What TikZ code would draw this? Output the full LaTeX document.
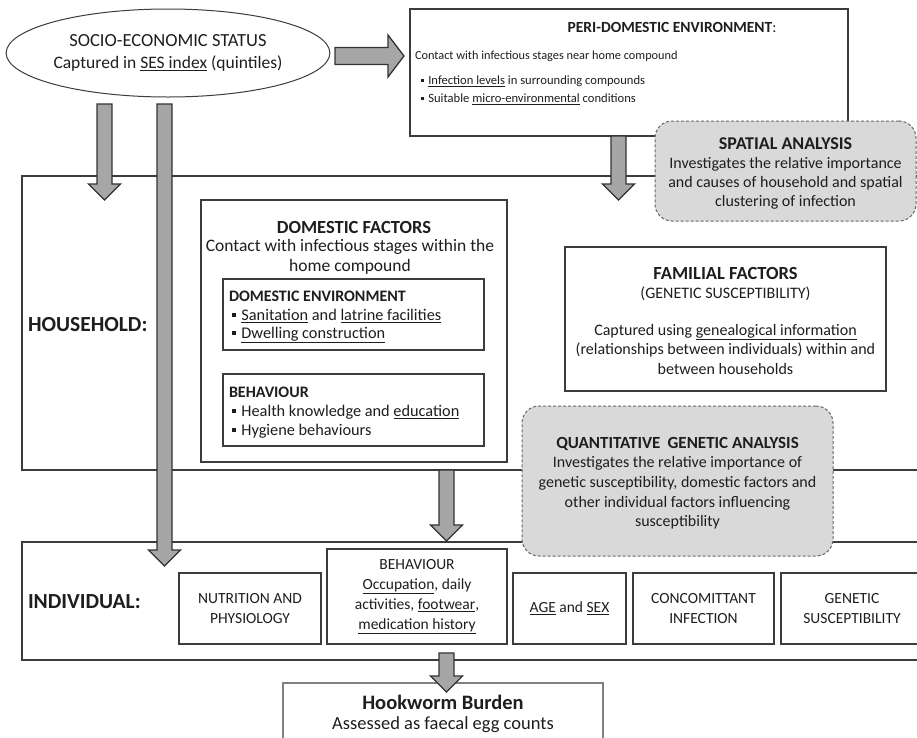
\documentclass[tikz,border=0pt]{standalone}
\usepackage{fontspec}
\setmainfont{Carlito}
\usetikzlibrary{shapes.geometric,calc}
\definecolor{lc}{HTML}{3C3C3C}
\definecolor{afill}{HTML}{A6A6A6}
\definecolor{dfill}{HTML}{D9D9D9}
\definecolor{tc}{HTML}{1E1E1E}
\newcommand\fsz[2]{\fontsize{#1}{#2}\selectfont}
\newcommand\bul{\raisebox{0.2em}{\rule{0.26em}{0.26em}}\hspace{0.32em}}
\newcommand\ulx[1]{\underline{#1}}
\newcommand\varrow[2]{\draw[barrow] let \p1=(#1), \p2=(#2) in
  (\x1-7.5pt,\y1) -- (\x1-7.5pt,\y2+16pt) -- (\x1-16pt,\y2+16pt) -- (\x1,\y2)
  -- (\x1+16pt,\y2+16pt) -- (\x1+7.5pt,\y2+16pt) -- (\x1+7.5pt,\y1) -- cycle;}
\newcommand\harrow[2]{\draw[barrow] let \p1=(#1), \p2=(#2) in
  (\x1,\y1+8.5pt) -- (\x2-16pt,\y1+8.5pt) -- (\x2-16pt,\y1+21pt) -- (\x2,\y1)
  -- (\x2-16pt,\y1-21pt) -- (\x2-16pt,\y1-8.5pt) -- (\x1,\y1-8.5pt) -- cycle;}
\tikzset{
  box/.style={draw=lc, line width=1.1pt, inner sep=0pt, outer sep=0pt, rectangle, anchor=north west},
  gbox/.style={draw=black!60, fill=dfill, line width=1pt, dash pattern=on 3pt off 2pt,
     rounded corners=17pt, inner sep=0pt, outer sep=0pt, rectangle, anchor=north west},
  barrow/.style={draw=black!80, fill=afill, line width=1.3pt, line join=miter},
  txt/.style={inner sep=0pt, outer sep=0pt, align=center, text=tc},
  ltxt/.style={inner sep=0pt, outer sep=0pt, anchor=west, text=tc},
  ibox/.style={box, align=center, text=tc, font=\fsz{15.5}{19.5}},
}
\begin{document}
\begin{tikzpicture}[x=1pt,y=-1pt]
\useasboundingbox (0,0) rectangle (917,737);
\clip (0,0) rectangle (917,737);
\fill[white] (0,0) rectangle (917,737);

% big frames
\node[box, minimum width=908pt, minimum height=294pt] (hh) at (22,176) {};
\node[box, minimum width=908pt, minimum height=118pt] (ind) at (22,542) {};
\node[ltxt, font=\fsz{21.5}{25}\bfseries] (hhl) at (28,325) {HOUSEHOLD:};
\node[ltxt, font=\fsz{21.5}{25}\bfseries] (indl) at (28,602) {INDIVIDUAL:};

% SES ellipse
\node[ellipse, draw=lc, line width=1pt, minimum width=321pt, minimum height=88pt,
      inner sep=0pt, align=center, text=tc, font=\fsz{17.5}{21}] (ses) at (168,53)
  {{\fsz{18.5}{21}SOCIO-ECONOMIC STATUS}\\[1pt]Captured in \ulx{SES index} (quintiles)};

% peri-domestic
\node[box, minimum width=438pt, minimum height=127pt] (peri) at (410,9) {};
\node[txt, font=\fsz{15.5}{18}] (perit) at (672,27) {\textbf{PERI-DOMESTIC ENVIRONMENT}:};
\node[ltxt, font=\fsz{12.3}{15}] (peric) at (415,56) {Contact with infectious stages near home compound};
\node[ltxt, font=\fsz{12.6}{15}] (perib1) at (421,81) {\bul\ulx{Infection levels} in surrounding compounds};
\node[ltxt, font=\fsz{12.6}{15}] (perib2) at (421,99) {\bul Suitable \ulx{micro-environmental} conditions};

% spatial analysis
\node[gbox, minimum width=261pt, minimum height=100pt] (spat) at (655,121) {};
\node[txt, font=\fsz{16}{19}] (spatt) at (785.5,173)
  {{\fsz{18}{19}\bfseries SPATIAL ANALYSIS}\\Investigates the relative importance\\and causes of household and spatial\\clustering of infection};

% domestic factors
\node[box, minimum width=306pt, minimum height=262pt] (dom) at (201,200) {};
\node[txt, font=\fsz{18.5}{20}\bfseries] (domt) at (354,227) {DOMESTIC FACTORS};
\node[txt, font=\fsz{17.5}{20}] (domc) at (350,257) {Contact with infectious stages within the\\home compound};
\node[box, minimum width=261pt, minimum height=71pt] (denv) at (223,279) {};
\node[ltxt, font=\fsz{16}{19}\bfseries] (denvt) at (229,296) {DOMESTIC ENVIRONMENT};
\node[ltxt, font=\fsz{16.3}{19}] (denvb1) at (232,316) {\bul\ulx{Sanitation} and \ulx{latrine facilities}};
\node[ltxt, font=\fsz{16.3}{19}] (denvb2) at (232,335) {\bul\ulx{Dwelling construction}};
\node[box, minimum width=261pt, minimum height=72pt] (dbeh) at (223,374) {};
\node[ltxt, font=\fsz{16}{19}\bfseries] (dbeht) at (229,392) {BEHAVIOUR};
\node[ltxt, font=\fsz{16.3}{19}] (dbehb1) at (232,412) {\bul Health knowledge and \ulx{education}};
\node[ltxt, font=\fsz{16.3}{19}] (dbehb2) at (232,431) {\bul Hygiene behaviours};

% familial factors
\node[box, minimum width=321pt, minimum height=144pt] (fam) at (565,247) {};
\node[txt, font=\fsz{18.5}{20}\bfseries] (famt) at (725.5,273) {FAMILIAL FACTORS};
\node[txt, font=\fsz{16}{19}] (fams) at (725.5,294) {(GENETIC SUSCEPTIBILITY)};
\node[txt, font=\fsz{16}{19.5}] (famc) at (725.5,349)
  {Captured using \ulx{genealogical information}\\(relationships between individuals) within and\\between households};

% quantitative genetic analysis
\node[gbox, minimum width=311pt, minimum height=150pt] (quant) at (522,406) {};
\node[txt, font=\fsz{17}{20}\bfseries] (quantt) at (677.5,444) {QUANTITATIVE\hspace{0.2em} GENETIC ANALYSIS};
\node[txt, font=\fsz{16}{19.7}] (quantc) at (677.5,493)
  {Investigates the relative importance of\\genetic susceptibility, domestic factors and\\other individual factors influencing\\susceptibility};

% individual factor boxes
\node[ibox, minimum width=142pt, minimum height=71pt] (nut) at (179,573) {NUTRITION AND\\PHYSIOLOGY};
\node[ibox, minimum width=180pt, minimum height=95pt, font=\fsz{15.5}{20}] (beh) at (327,549)
  {BEHAVIOUR\\\ulx{Occupation}, daily\\activities, \ulx{footwear},\\\ulx{medication history}};
\node[ibox, minimum width=113pt, minimum height=71pt] (age) at (513,573) {\ulx{AGE} and \ulx{SEX}};
\node[ibox, minimum width=141pt, minimum height=71pt] (conc) at (633,573) {CONCOMITTANT\\INFECTION};
\node[ibox, minimum width=142pt, minimum height=71pt] (gen) at (781,573) {GENETIC\\SUSCEPTIBILITY};

% hookworm burden
\node[box, draw=black!50, minimum width=320pt, minimum height=80pt] (hw) at (283,683) {};
\node[txt, font=\fsz{20.5}{24}\bfseries] (hwt) at (443,702) {Hookworm Burden};
\node[txt, font=\fsz{18.5}{22}] (hwc) at (443,725) {Assessed as faecal egg counts};

% arrow end points
\coordinate (a0s) at (335,56);   \coordinate (a0e) at (404,56);
\coordinate (a1s) at (104.5,104); \coordinate (a1e) at (104.5,200);
\coordinate (a2s) at (164.5,104); \coordinate (a2e) at (164.5,566);
\coordinate (a3s) at (618.5,136); \coordinate (a3e) at (618.5,200);
\coordinate (a4s) at (446.5,470); \coordinate (a4e) at (446.5,541);
\coordinate (a5s) at (446.5,653); \coordinate (a5e) at (446.5,692);

\harrow{a0s}{a0e}
\varrow{a1s}{a1e}
\varrow{a2s}{a2e}
\varrow{a3s}{a3e}
\varrow{a4s}{a4e}
\varrow{a5s}{a5e}
\end{tikzpicture}
\end{document}
